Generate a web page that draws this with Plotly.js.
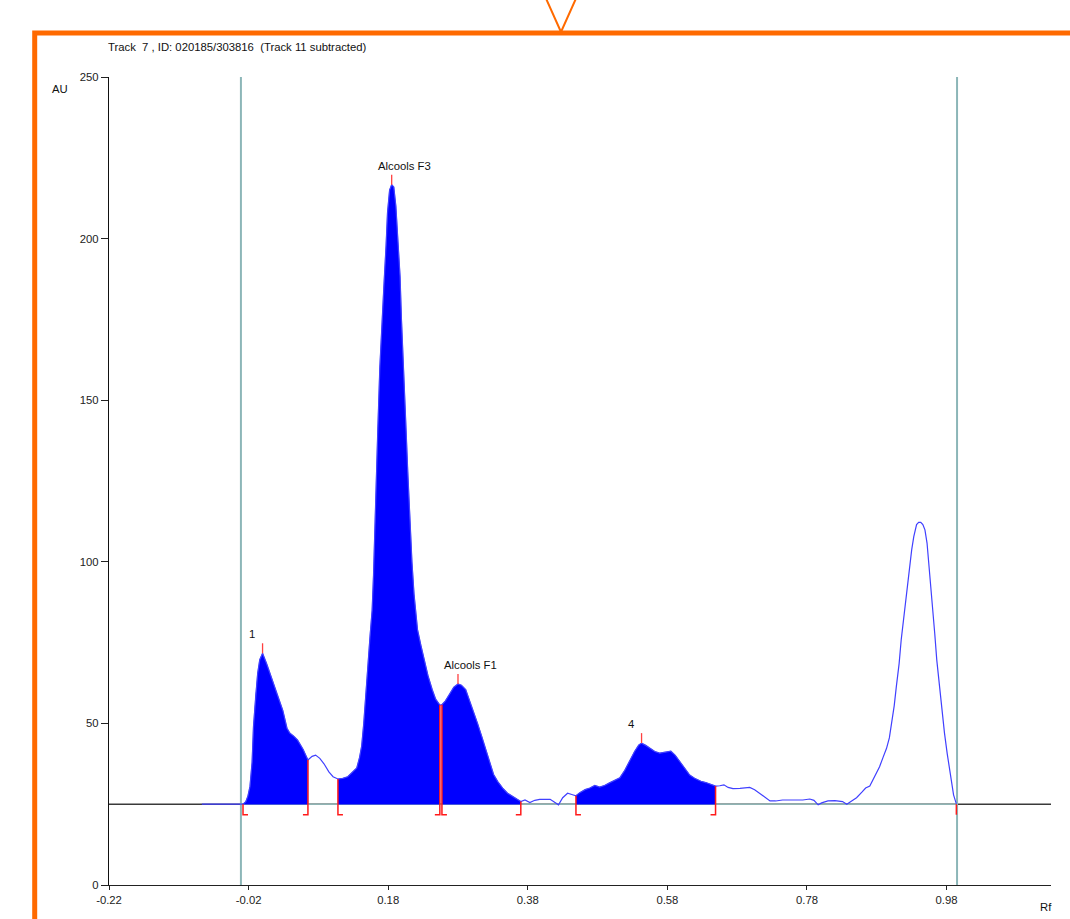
<!DOCTYPE html>
<html>
<head>
<meta charset="utf-8">
<script src="https://cdn.plot.ly/plotly-3.0.1.min.js"></script>
<style>html,body{margin:0;padding:0;background:#fff;}#chart{width:1070px;height:919px;}</style>
</head>
<body>
<div id="chart"></div>
<script>
// ---- data ----
const rf = [-0.087,-0.060,-0.028,-0.024,-0.021,-0.018,-0.015,-0.013,-0.010,-0.007,-0.004,0.000,0.006,0.013,0.022,0.029,0.035,0.039,0.045,0.050,0.058,0.065,0.071,0.076,0.082,0.088,0.095,0.101,0.108,0.115,0.122,0.129,0.135,0.139,0.142,0.145,0.148,0.151,0.154,0.157,0.159,0.162,0.165,0.168,0.171,0.174,0.177,0.179,0.182,0.185,0.188,0.191,0.194,0.197,0.199,0.202,0.205,0.208,0.211,0.214,0.217,0.220,0.222,0.227,0.231,0.237,0.243,0.248,0.254,0.257,0.262,0.268,0.274,0.280,0.285,0.291,0.297,0.303,0.308,0.314,0.320,0.326,0.331,0.337,0.344,0.351,0.359,0.364,0.370,0.376,0.383,0.390,0.397,0.412,0.419,0.424,0.430,0.437,0.443,0.449,0.454,0.462,0.469,0.476,0.483,0.490,0.497,0.505,0.512,0.519,0.526,0.533,0.539,0.543,0.549,0.555,0.562,0.569,0.576,0.585,0.591,0.598,0.605,0.612,0.619,0.628,0.635,0.642,0.649,0.655,0.661,0.667,0.674,0.684,0.698,0.705,0.712,0.720,0.727,0.735,0.745,0.763,0.774,0.784,0.790,0.796,0.801,0.810,0.820,0.831,0.837,0.844,0.851,0.859,0.864,0.870,0.877,0.884,0.889,0.894,0.898,0.901,0.905,0.908,0.912,0.915,0.919,0.923,0.926,0.930,0.933,0.935,0.937,0.940,0.943,0.946,0.949,0.952,0.954,0.956,0.959,0.963,0.966,0.970,0.973,0.977,0.981,0.985,0.988,0.990,0.994];
const au = [25,25,25,25.8,27.5,30.5,38,49,58.5,65.5,69.7,71.7,68.4,64.2,58.8,54,48.5,47,46,44.9,42,38.7,39.8,40.2,39.2,37.5,35,33.5,32.8,33,33.5,34.8,36.2,39.5,43,50,58,68,77,85,96,115,140,160,171,186,198,208,215,216.7,216,210,199,188.3,175,157,144,128,112,100,90,83.5,79,74,70,64.8,60.5,57.5,55.7,55.8,57,59,61.2,62.2,61.8,60.5,57,53.5,50,46,42,37.5,34.2,32,30,28.4,27.3,26.4,25.8,26.3,25.5,26.2,26.5,26.5,25.4,24.8,27,28.4,28,27.6,28.5,29.5,30,30.8,30.3,30.8,31.6,32.4,33.2,35.5,38.5,41.3,43.3,43.9,43.2,42.3,41.3,40.8,41,41.4,40.2,38.2,36,34,33,32.1,31.7,31.2,30.6,30.7,31,30.2,29.8,29.9,30.2,29.5,28.4,27,26,26,26.3,26.3,26.3,26.6,26.2,24.8,25.4,26,26.1,25.8,25,26,27,28.8,30,30.6,33.5,36.6,39.5,42.3,45.5,49.5,55.5,61.4,68.5,75.9,83.5,91.3,97.5,103.7,107.8,109.9,111.5,112.2,112.2,111.5,109.9,105.8,101.1,96.5,88,77.9,69.5,61.4,54,47,40.5,34.6,30.5,27.9,25.1];
const baselineAU = 25;
const regionStart = [-0.028, 0.108, 0.257, 0.449];
const regionEnd   = [0.065, 0.254, 0.370, 0.649];
const peakRf = [0.000, 0.185, 0.280, 0.543];
const peakAU = [71.7, 216.7, 62.2, 43.9];
const peakLabels = ['1', 'Alcools F3', 'Alcools F1', '4'];
const frontRf = [-0.031, 0.995];
const endMarkRf = 0.994;
const xTickVals = [-0.22, -0.02, 0.18, 0.38, 0.58, 0.78, 0.98];
const xTickText = ['-0.22', '-0.02', '0.18', '0.38', '0.58', '0.78', '0.98'];
const yTickVals = [0, 50, 100, 150, 200, 250];
const titleText = 'Track \u00a07 , ID: 020185/303816 \u00a0(Track 11 subtracted)';

// ---- helpers ----
const FONT = 'Liberation Sans, Arial, sans-serif';
const FS = 11.3;
const L = 109, R = 19, T = 77, B = 34, W = 1070, H = 919;
const pw = W - L - R, ph = H - T - B;
const xRange = [-0.22, 1.1296];
const yRange = [0, 250];
const pxX = px => (px - L) / pw;          // page px -> paper x
const pxY = py => (H - B - py) / ph;      // page py -> paper y
const auPerPx = (yRange[1] - yRange[0]) / ph;
const rfPerPx = (xRange[1] - xRange[0]) / pw;

function interp(x) {
  for (let i = 0; i < rf.length - 1; i++) {
    if (x >= rf[i] && x <= rf[i + 1]) {
      const t = (x - rf[i]) / (rf[i + 1] - rf[i]);
      return au[i] + t * (au[i + 1] - au[i]);
    }
  }
  return baselineAU;
}

// ---- traces ----
const traces = [];
for (let r = 0; r < regionStart.length; r++) {
  const s = regionStart[r], e = regionEnd[r];
  const xs = [s], ys = [interp(s)];
  for (let i = 0; i < rf.length; i++) {
    if (rf[i] > s && rf[i] < e) { xs.push(rf[i]); ys.push(au[i]); }
  }
  xs.push(e, e, s); ys.push(interp(e), baselineAU, baselineAU);
  traces.push({x: xs, y: ys, type: 'scatter', mode: 'lines', fill: 'toself',
    fillcolor: '#0000ff', line: {width: 0.5, color: '#0000ff'}, hoverinfo: 'skip', showlegend: false});
}
traces.push({x: rf, y: au, type: 'scatter', mode: 'lines',
  line: {color: '#4040ff', width: 1.2}, showlegend: false, hoverinfo: 'x+y'});

// ---- shapes ----
const shapes = [];
shapes.push({type: 'line', xref: 'x', yref: 'y', x0: xRange[0], x1: xRange[1], y0: baselineAU, y1: baselineAU,
  line: {color: '#3a3a3a', width: 1.5}, layer: 'below'});
shapes.push({type: 'line', xref: 'x', yref: 'y', x0: frontRf[0], x1: frontRf[1], y0: baselineAU, y1: baselineAU,
  line: {color: '#8fb4b4', width: 1.5}, layer: 'below'});
frontRf.forEach(f => shapes.push({type: 'line', xref: 'x', yref: 'y', x0: f, x1: f, y0: yRange[0], y1: yRange[1],
  line: {color: '#8cb6b8', width: 2}, layer: 'below'}));
const bottom = baselineAU - 10.5 * auPerPx;
const foot = 5 * rfPerPx;
for (let r = 0; r < regionStart.length; r++) {
  const s = regionStart[r], e = regionEnd[r];
  shapes.push({type: 'path', xref: 'x', yref: 'y',
    path: `M ${s},${interp(s)} L ${s},${bottom} L ${s + foot},${bottom}`,
    line: {color: '#ff1a1a', width: 1.5}});
  shapes.push({type: 'path', xref: 'x', yref: 'y',
    path: `M ${e},${interp(e)} L ${e},${bottom} L ${e - foot},${bottom}`,
    line: {color: '#ff1a1a', width: 1.5}});
}
shapes.push({type: 'line', xref: 'x', yref: 'y', x0: endMarkRf, x1: endMarkRf, y0: baselineAU, y1: bottom,
  line: {color: '#ff1a1a', width: 1.5}});
for (let p = 0; p < peakRf.length; p++) {
  shapes.push({type: 'line', xref: 'x', yref: 'y', x0: peakRf[p], x1: peakRf[p],
    y0: peakAU[p], y1: peakAU[p] + 10 * auPerPx, line: {color: '#ff4040', width: 1.3}});
}
shapes.push({type: 'rect', xref: 'paper', yref: 'paper', x0: pxX(34.7), x1: pxX(1110), y0: pxY(33), y1: pxY(980),
  line: {color: '#ff6a00', width: 5}, fillcolor: 'rgba(0,0,0,0)'});
shapes.push({type: 'path', xref: 'paper', yref: 'paper',
  path: `M ${pxX(544)},${pxY(-6)} L ${pxX(561)},${pxY(32)} L ${pxX(578)},${pxY(-6)}`,
  line: {color: '#ff6a00', width: 2}});

// ---- annotations ----
const annotations = peakLabels.map((t, p) => ({
  x: peakRf[p], y: peakAU[p], xref: 'x', yref: 'y', text: t, showarrow: false,
  xanchor: 'left', yanchor: 'middle', xshift: -16, yshift: 19,
  font: {family: FONT, size: FS, color: '#111'}
}));
annotations.push({x: pxX(60), y: pxY(89), xref: 'paper', yref: 'paper', text: 'AU', showarrow: false,
  xanchor: 'center', yanchor: 'middle', font: {family: FONT, size: FS, color: '#111'}});
annotations.push({x: pxX(1046), y: pxY(907), xref: 'paper', yref: 'paper', text: 'Rf', showarrow: false,
  xanchor: 'center', yanchor: 'middle', font: {family: FONT, size: FS, color: '#111'}});

const layout = {
  width: W, height: H,
  margin: {l: L, r: R, t: T, b: B, pad: 0},
  paper_bgcolor: '#ffffff', plot_bgcolor: '#ffffff',
  showlegend: false,
  title: {text: titleText, x: 108 / W, xref: 'container', xanchor: 'left',
          y: 1 - 47 / H, yref: 'container', yanchor: 'middle',
          font: {family: FONT, size: FS, color: '#111'}},
  xaxis: {range: xRange, showgrid: false, zeroline: false, showline: true, linecolor: '#222', linewidth: 1.2,
          ticks: 'outside', ticklen: 4, tickcolor: '#222', tickwidth: 1,
          tickvals: xTickVals, ticktext: xTickText,
          tickfont: {family: FONT, size: FS, color: '#222'}, fixedrange: true},
  yaxis: {range: yRange, showgrid: false, zeroline: false, showline: true, linecolor: '#111', linewidth: 1.2,
          ticks: 'outside', ticklen: 7, tickcolor: '#222', tickwidth: 1,
          tickvals: yTickVals, tickfont: {family: FONT, size: FS, color: '#222'}, fixedrange: true},
  shapes: shapes,
  annotations: annotations
};

Plotly.newPlot('chart', traces, layout, {displayModeBar: false, responsive: false});
</script>
</body>
</html>
